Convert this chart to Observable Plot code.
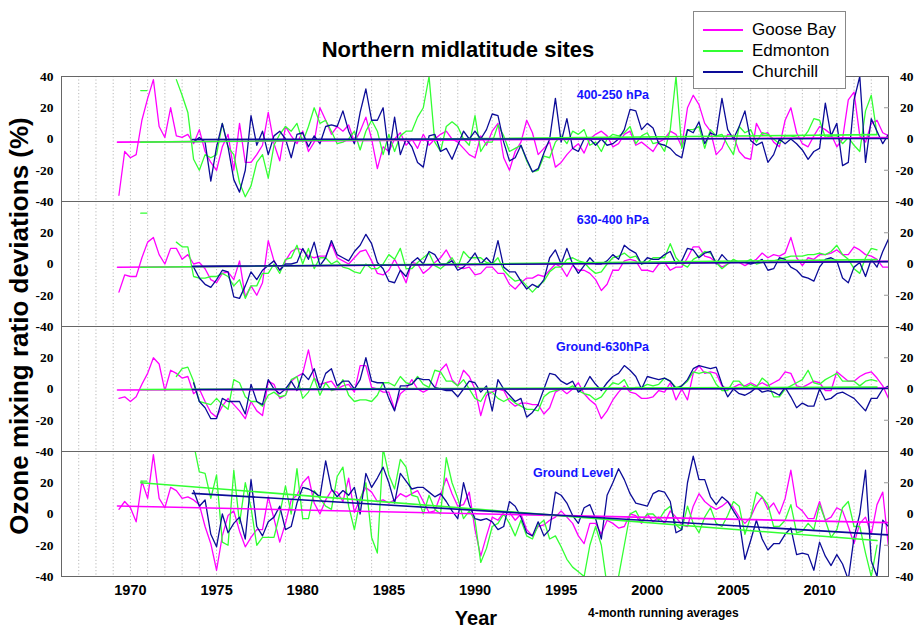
<!DOCTYPE html>
<html><head><meta charset="utf-8">
<script src="https://cdn.jsdelivr.net/npm/d3@7"></script>
<script src="https://cdn.jsdelivr.net/npm/@observablehq/plot@0.6"></script>
<style>
body{margin:0;background:#fff;}
#wrap{position:relative;width:917px;height:629px;overflow:hidden;font-family:"Liberation Sans",Arial,sans-serif;background:#fff;}
#chart{position:absolute;left:0;top:0;}
#title{position:absolute;left:258px;width:400px;top:37px;line-height:26px;text-align:center;font-weight:bold;font-size:22px;color:#000;}
#ylab{position:absolute;left:-231px;width:500px;top:311px;line-height:30px;text-align:center;font-weight:bold;font-size:26px;transform:rotate(-90deg);transform-origin:center center;white-space:nowrap;}
#xlab{position:absolute;left:426px;width:100px;top:607px;text-align:center;font-weight:bold;font-size:20px;line-height:22px;}
#note{position:absolute;left:588px;top:606px;font-weight:bold;font-size:12px;line-height:14px;}
#legend{position:absolute;left:693px;top:11px;width:151px;height:76px;border:1px solid #888;background:#fff;}
#legend .item{position:absolute;left:0;height:20px;width:151px;}
#legend svg{position:absolute;left:9px;top:8px;}
#legend span{position:absolute;left:58px;top:0;font-size:17px;line-height:20px;}
</style></head><body>
<div id="wrap">
  <div id="chart"></div>
  <div id="title">Northern midlatitude sites</div>
  <div id="ylab">Ozone mixing ratio deviations (%)</div>
  <div id="xlab">Year</div>
  <div id="note">4-month running averages</div>
  <div id="legend"></div>
</div>
<script>
// ---- categories ----
const panels = ["400-250 hPa", "630-400 hPa", "Ground-630hPa", "Ground Level"];
const stations = ["Goose Bay", "Edmonton", "Churchill"];
const stationColors = ["#ff00ff", "#33ff33", "#0c0c98"];

// ---- time base: 4-month running averages, one value every 1/3 year ----
const step = 1 / 3;
const gooseStart = 1969 + 1 / 3;
const edmStart = 1972 + 2 / 3;
const churStart = 1973 + 2 / 3;

// ---- Goose Bay (%), from 1969.33 ----
const gooseP1 = [-36,-8, -12,-10,12, 26,38,8, 1,20,2, 1,3,-3, 6,-8,-15, -20,-5,3, -20,10,-15, -15,-10,-4, 17,-3,-14, 8,2,-3, 5,-8,-2, 20,12,3, 8,5,9, -2,5,14, 0,-19,-5, -8,0,4, -4,0,-6, 3,-4,0, 3,5,0, -2,-6,-10, -12,2,-4, 5,10,-12, -20,-8,-2, 12,4,-10, -6,-2,-18, -15,-10,-6, -3,-9,0, 3,5,2, -5,-3,3, 5,-4,-2, -5,-8,-2, 0,5,3, -5,20,28, 22,10,5, -10,-6,3, 2,-8,-12, -13,10,3, 4,-2,-5, 12,20,4, -3,-5,2, 8,6,3, -5,0,25, 30,2,-2, 10,12,4, 2];
const gooseP2 = [-18,-7, -8,-8,4, 14,17,6, 0,10,10, 3,6,0, 1,-3,-10, -12,-6,-5, -10,2,-21, -14,-20,-12, 15,2,-4, 2,8,10, 9,5,4, 5,5,13, 4,2,0, 4,8,9, 2,-6,-7, -4,3,-4, -12,1,0, -6,-3,1, 4,9,2, -2,-3,-2, -7,-6,-2, -2,-6,-6, -13,-16,-12, -9,-9,-7, -8,-4,0, -2,-8,-1, -4,-4,-6, -10,-17,-13, -4,-4,2, 3,2,-4, -4,-5,0, 1,-4,-2, -2,4,11, 11,5,4, 1,-2,0, 2,1,-1, 1,3,7, 4,6,5, 7,17,4, -1,4,3, 6,6,7, 9,6,6, 11,9,6, 5,3,-2, -2];
const gooseP3 = [-6,-5, -8,-5,3, 10,20,16, -1,12,10, 7,8,-3, 0,-8,-15, -18,-11,-6, -10,-14,-19, -8,-14,-17, 5,3,-6, -4,5,8, 10,25,7, 3,4,5, 0,2,3, -2,15,15, 1,0,-2, -2,-13,-3, 0,6,0, -2,0,0, 12,16,6, 2,12,8, 0,-17,-4, -2,0,-1, -8,-11,-9, -9,-10,-10, -16,-12,-2, 0,-3,0, 4,-3,-7, -10,-19,-14, -7,-2,2, -2,-3,-6, -6,-5,-1, -2,4,-7, 0,-7,10, 15,10,11, 10,2,0, 1,3,2, 4,2,4, 2,4,6, 11,10,2, 1,3,5, 4,-1,-1, 11,8,5, 5,8,10, 11,7,2, -6];
const gooseP4 = [3,8, 4,-5,21, 10,38,10, 4,17,15, 10,11,9, 6,-8,-19, -36,-14,-1, 2,-11,-21, -15,-10,-10, 11,-3,-18, -6,9,12, 20,24,7, 0,9,15, 14,8,23, 1,10,17, 14,8,9, 7,9,13, 11,13,15, 8,1,2, 12,23,13, 5,6,14, -10,-27,-14, -2,-4,1, 1,-4,0, -10,-14,-8, -7,-4,-2, 2,-2,-6, -14,-19,-6, -6,-13,-4, -6,-9,-8, 0,-1,-6, 0,-5,-2, -6,2,-2, -7,-8,5, 13,8,5, 3,5,8, 4,-2,-6, -2,6,11, 3,7,0, 10,28,5, 2,-3,-3, 8,-4,-2, 4,2,-8, -19,-6,-2, -13,6,14, -21];

// ---- Edmonton (%), from 1972.67 ----
const edmP1 = [38, 28,17,-13, -20,-10,-12, -10,10,-5, -10,-28,-37, -30,-15,-10, -25,-4,3, 8,5,10, -2,8,20, 10,12,5, -3,-2,0, 5,-7,5, 12,5,-10, 3,-8,2, 5,5,14, 20,40,-2, -8,8,11, 8,0,-4, 15,-8,-2, -2,9,2, -8,-6,-4, -14,-21,-20, -11,-12,-2, 2,-3,5, 3,6,-4, -2,-8,0, 3,2,4, 8,-3,2, 4,-3,-2, -8,6,40, -6,6,6, 8,-6,6, 2,3,-4, -10,8,4, 6,-2,4, 3,0,-3, 2,2,1, 0,5,13, 12,1,2, 2,-3,1, -4,-8,18, 28,3];
const edmP2 = [14, 11,11,-8, -9,-9,-8, -8,-6,-8, -14,-10,-22, -14,-14,-6, -6,0,-6, 3,4,12, 0,10,-3, 4,4,0, 2,-2,-3, -5,-6,0, -3,-3,0, 6,3,10, -3,-3,1, 4,7,-1, -3,0,4, -2,8,4, 4,4,1, 0,4,-4, -8,-11,-10, -14,-18,-14, -11,-5,-2, -2,3,4, 2,1,-3, -6,-5,0, 4,5,7, 4,5,0, 1,4,4, 4,13,4, 0,-2,3, 5,8,7, 1,-3,0, 3,1,1, 3,0,1, 1,2,3, 4,5,5, 5,6,6, 7,6,8, 12,6,3, -3,-6,4, 10,9];
const edmP3 = [8, 13,14,5, -8,-9,-10, -6,-10,-13, 6,4,-5, -8,-8,-11, -4,-2,-5, -4,6,8, -6,-2,7, -4,4,-1, 0,6,-4, -8,-7,-7, -8,-4,4, 4,2,8, 4,3,8, 3,1,12, 11,5,5, 2,6,0, -6,-8,-2, -2,-6,-8, -6,-9,-11, -13,-13,-14, -5,-2,-1, 0,0,2, -1,-3,-4, -7,-5,0, 4,3,6, -1,1,1, 3,2,3, 7,5,1, 2,5,11, 10,11,10, 3,-1,-1, 5,5,1, 3,1,7, 4,-5,-5, 0,2,4, 6,12,4, 3,6,8, 10,5,5, 5,2,5, 6,5];
const edmP4 = [45, 45,45,45, 27,26,10, 25,-18,-20, 28,-6,20, 4,-20,-15, -15,-15,0, 18,0,29, -3,-3,15, 10,5,3, 24,30,5, -10,9,20, -15,-25,42, 25,16,35, 30,12,11, 0,12,3, 0,36,20, 10,-3,2, -4,-31,-22, -8,-6,0, -6,-14,-4, -14,-16,-7, -4,-16,-14, -21,-29,-34, -37,-40,-20, -8,-20,-46, -46,-40,-20, 0,2,-5, 0,0,-4, 2,5,-7, -10,5,-6, -12,-2,4, -6,-8,-1, 8,5,-13, -2,14,11, 6,-8,-8, -4,6,-12, -11,-6,-10, 6,-4,-15, -10,4,8, -8,-8,-25, -40,-20];
// short isolated Edmonton segment around 1971 (per panel; null = not shown)
const edmEarlyTimes = [1970.6, 1970.95];
const edmEarly = [31, 32.5, null, 21];

// ---- Churchill (%), from 1973.67 ----
const churP1 = [-2, 1,-2,-27, -5,10,-5, -26,-34,-20, 15,-4,5, -10,2,5, 0,-12,3, 4,-5,2, -3,8,9, 8,18,5, -3,17,32, 12,12,20, -10,14,-10, 0,-5,-15, -18,2,3, -8,-6,-13, -4,5,0, 5,0,6, 16,15,-2, -14,-12,-4, -13,-21,-19, -9,0,26, -2,13,-6, -8,0,0, -4,0,-4, -3,0,6, 19,18,6, 10,7,-3, -4,-6,-10, -12,6,4, 11,-3,4, 2,26,6, 0,8,18, -1,-4,-2, -15,-10,0, -3,0,-3, -7,-13,-8, -6,23,2, 10,-17,-15, 25,40,-15, 13,5,-3, 3];
const churP2 = [-2, -9,-13,-15, -10,-4,-5, -21,-22,-14, -5,-10,-4, -1,2,-4, 0,0,1, 10,3,14, -1,4,15, 6,4,2, 8,12,19, 13,1,-3, -11,-12,-4, -8,1,4, 0,8,6, 0,0,2, -4,-2,2, 7,0,4, 0,15,-2, -5,-5,-11, -16,-13,-15, -10,4,9, 0,10,0, -6,-1,4, 0,0,2, 6,3,12, 9,7,0, 4,3,3, 6,8,0, 2,10,9, 4,7,8, 0,6,2, 1,1,1, 0,1,3, -4,-3,4, 3,-2,-4, -8,-9,-11, -2,3,4, 2,-9,-12, -2,1,-8, 3,-2,8, 16];
const churP3 = [4, -8,-12,-19, -19,-6,-8, -8,-8,-16, 3,-8,-10, 6,0,-3, 0,5,-1, 10,6,13, 0,10,13, 2,5,5, 0,6,20, 5,4,4, -6,-14,2, 2,3,7, 6,6,1, 0,-1,-1, -5,0,5, 4,-2,2, -14,6,0, -4,-8,-6, -18,-15,-10, 0,10,9, 5,3,5, -2,1,8, 3,-1,4, 8,10,15, 12,8,0, 8,7,6, 7,5,0, 2,6,13, 15,14,13, 14,3,-5, 0,-3,-4, -2,1,-2, -1,-2,-4, 1,-5,-12, -9,-11,-11, 0,-7,-6, -3,-2,-4, -6,-10,-14, -6,-6,0, 2];
const churP4 = [15, 5,9,-13, -21,0,-12, -6,-2,-16, 22,-8,-14, -5,-2,5, -10,-8,7, 17,16,14, 11,34,16, 11,15,12, 17,0,26, 17,23,30, 20,7,26, 21,16,17, 17,14,11, 13,8,2, -3,20,6, -3,-4,-3, -5,-10,-8, 8,5,-2, -12,-14,-5, -14,-10,14, 12,7,-1, -6,4,6, -3,-16,12, 20,29,22, 13,7,6, 5,13,15, 14,8,-12, -10,20,37, 22,22,11, 6,11,8, 2,-4,-29, -17,-4,-16, -23,-19,-19, -13,-9,-26, -25,-26,-36, -18,-27,-33, -26,-32,-42, -15,0,28, -30,-40,-4, -8];

// ---- linear trends: [start, end] value per panel ----
const trendYears = {"Goose Bay": [1969.25, 2014], "Edmonton": [1970.6, 2013.33], "Churchill": [1973.6, 2014]};
const trendGoose = [[-2, 1], [-2.1, 1.7], [-0.6, 0.6], [5.1, -5.5]];
const trendEdm = [[-2, 2.8], [-2.1, 2.8], [-0.3, 1.2], [20, -17]];
const trendChur = [[-0.3, 0.3], [-1.5, 1.5], [-0.3, 0.3], [13.2, -13.4]];

// ---- axis ticks ----
const xTickYears = [1970, 1975, 1980, 1985, 1990, 1995, 2000, 2005, 2010];
const gridYears = d3.range(1967, 2014);
const leftTicks = [[40, 20, 0, -20, -40], [20, 0, -20, -40], [20, 0, -20, -40], [20, 0, -20, -40]];
const rightTicks = [[40, 20, 0, -20, -40], [20, 0, -20, -40], [20, 0, -20], [40, 20, 0, -20, -40]];

// ---- panel annotations (x in years, y in %) ----
const panelLabelX = [1998, 1998, 1997.4, 1995.7];
const panelLabelY = [28, 28, 27, 26.4];

// ---- build tables ----
const seriesSets = [
  ["Goose Bay", gooseStart, [gooseP1, gooseP2, gooseP3, gooseP4]],
  ["Edmonton", edmStart, [edmP1, edmP2, edmP3, edmP4]],
  ["Churchill", churStart, [churP1, churP2, churP3, churP4]]
];
const seriesRows = [];
for (const [station, start, arrs] of seriesSets) {
  arrs.forEach((vals, p) => vals.forEach((v, i) => seriesRows.push({panel: panels[p], station, key: station + p, t: start + i * step, v})));
}
const earlyRows = [];
edmEarly.forEach((v, p) => { if (v != null) edmEarlyTimes.forEach(t => earlyRows.push({panel: panels[p], station: "Edmonton", key: "early" + p, t, v})); });

const trendRows = [];
[["Goose Bay", trendGoose], ["Edmonton", trendEdm], ["Churchill", trendChur]].forEach(([station, tr]) => {
  tr.forEach((pair, p) => pair.forEach((v, j) => trendRows.push({panel: panels[p], station, key: "tr" + station + p, t: trendYears[station][j], v})));
});

const leftRows = [], rightRows = [];
leftTicks.forEach((ts, p) => ts.forEach(v => leftRows.push({panel: panels[p], v})));
rightTicks.forEach((ts, p) => ts.forEach(v => rightRows.push({panel: panels[p], v})));
const labelRows = panels.map((name, p) => ({panel: name, label: name, x: panelLabelX[p], y: panelLabelY[p]}));

const tickFont = {fontFamily: "'Liberation Serif', 'Times New Roman', serif", fontWeight: "bold", fontSize: 13.5};

const chart = Plot.plot({
  width: 917, height: 629,
  marginTop: 75, marginBottom: 52, marginLeft: 61, marginRight: 29,
  x: {domain: [1966, 2014]},
  y: {domain: [-40, 40]},
  fy: {domain: panels, padding: 0, axis: null},
  color: {domain: stations, range: stationColors},
  style: {background: "transparent", fontFamily: "'Liberation Sans', Arial, sans-serif", overflow: "visible"},
  marks: [
    Plot.ruleX(gridYears, {stroke: "#b8b8b8", strokeDasharray: "1.2,2.2", strokeWidth: 1}),
    Plot.line(seriesRows, {x: "t", y: "v", fy: "panel", z: "key", stroke: "station", strokeWidth: 1.3, clip: true}),
    Plot.line(earlyRows, {x: "t", y: "v", fy: "panel", z: "key", stroke: "station", strokeWidth: 1.3, clip: true}),
    Plot.line(trendRows, {x: "t", y: "v", fy: "panel", z: "key", stroke: "station", strokeWidth: 1.6, clip: true}),
    Plot.frame({stroke: "#666"}),
    Plot.axisY({anchor: "right", ticks: [-20, 20], tickSize: -5, tickFormat: () => "", stroke: "#999"}),
    Plot.axisX({anchor: "bottom", ticks: xTickYears, tickFormat: d => String(d), tickSize: 0, tickPadding: 8,
      fontSize: 14.5, fontWeight: "bold", fontFamily: "'Liberation Sans Narrow', 'Liberation Sans', Arial, sans-serif", label: null}),
    Plot.text(leftRows, {fy: "panel", y: "v", text: d => String(d.v), frameAnchor: "left", dx: -8, textAnchor: "end", fill: "#000", ...tickFont}),
    Plot.text(rightRows, {fy: "panel", y: "v", text: d => String(d.v), frameAnchor: "right", dx: 25, textAnchor: "end", fill: "#000", ...tickFont}),
    Plot.text(labelRows, {fy: "panel", x: "x", y: "y", text: "label", fill: "#1414ff", fontWeight: "bold", fontSize: 12.5, textAnchor: "middle"})
  ]
});
document.getElementById("chart").appendChild(chart);

// legend
const legend = document.getElementById("legend");
stations.forEach((s, i) => {
  const item = document.createElement("div");
  item.className = "item";
  item.style.top = (8 + i * 21) + "px";
  item.innerHTML = `<svg width="40" height="4"><line x1="0" x2="40" y1="2" y2="2" stroke="${stationColors[i]}" stroke-width="2"/></svg><span>${s}</span>`;
  legend.appendChild(item);
});
</script>
</body></html>
